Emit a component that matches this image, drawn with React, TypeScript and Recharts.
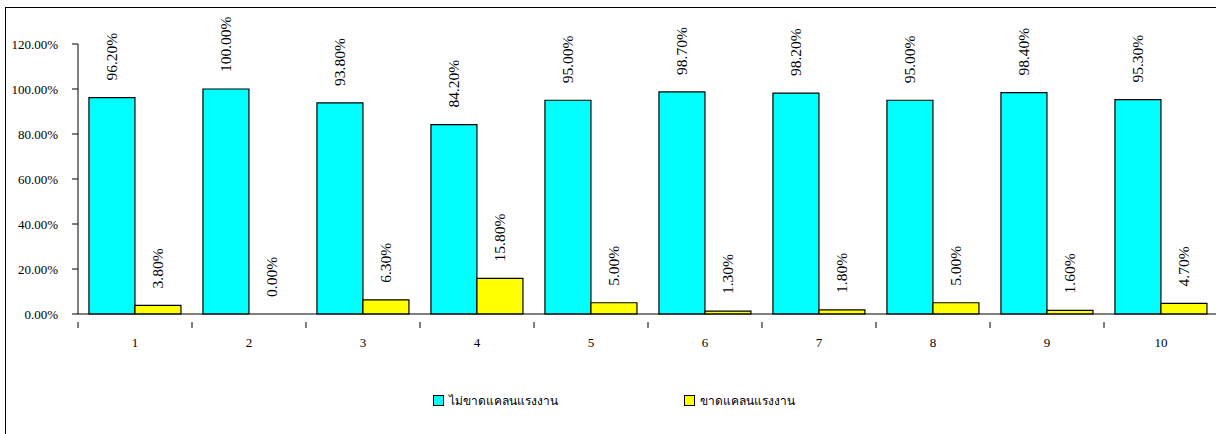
import React from "react";
import { BarChart, Bar, XAxis, YAxis, Legend, LabelList, Cell } from "recharts";

const categories = ["1", "2", "3", "4", "5", "6", "7", "8", "9", "10"];
const notShortage = [96.2, 100.0, 93.8, 84.2, 95.0, 98.7, 98.2, 95.0, 98.4, 95.3];
const shortage = [3.8, 0.0, 6.3, 15.8, 5.0, 1.3, 1.8, 5.0, 1.6, 4.7];
const yTicks = [0, 20, 40, 60, 80, 100, 120];
const seriesNames = ["ไม่ขาดแคลนแรงงาน", "ขาดแคลนแรงงาน"];
const seriesColors = ["#00FFFF", "#FFFF00"];

const data = categories.map((c, i) => ({
  name: c,
  a: notShortage[i],
  b: shortage[i],
}));

const FONT = "Liberation Serif, Times New Roman, serif";

const fmt = (v: number) => `${v.toFixed(2)}%`;

const RotLabel = (props: any) => {
  const { x, y, width, height, value } = props;
  const cx = x + width / 2;
  const top = Math.min(y, y + (height || 0));
  return (
    <text
      x={cx}
      y={top - 17}
      transform={`rotate(-90 ${cx} ${top - 17})`}
      textAnchor="start"
      dominantBaseline="central"
      fontFamily={FONT}
      fontSize={15.5}
      fill="#000"
    >
      {fmt(Number(value))}
    </text>
  );
};

const XTick = (props: any) => {
  const { x, y, payload } = props;
  const off = payload.offset || 0;
  return (
    <g>
      <line x1={x - off} y1={y} x2={x - off} y2={y + 6} stroke="#000" strokeWidth={1} />
      <text x={x} y={y + 25} textAnchor="middle" fontFamily={FONT} fontSize={13} fill="#000">
        {payload.value}
      </text>
    </g>
  );
};

const LegendContent = () => (
  <div style={{ position: "relative", width: 1216, height: 20, fontFamily: FONT, fontSize: 12 }}>
    {seriesNames.map((n, i) => (
      <div
        key={n}
        style={{
          position: "absolute",
          left: i === 0 ? 433 : 684,
          top: 0,
          display: "flex",
          alignItems: "center",
          whiteSpace: "nowrap",
        }}
      >
        <span
          style={{
            display: "inline-block",
            width: 9,
            height: 9,
            background: seriesColors[i],
            border: "1.5px solid #000",
            marginRight: 5,
          }}
        />
        <span>{n}</span>
      </div>
    ))}
  </div>
);

const tinyForZero = (v: any) => (Number(v) === 0 ? 0.01 : 0);

export default function App() {
  return (
    <div
      style={{
        position: "absolute",
        left: 0,
        top: 0,
        width: 1216,
        height: 434,
        overflow: "hidden",
        background: "#fff",
      }}
    >
      <div
        style={{
          position: "absolute",
          left: 5,
          top: 7,
          width: 1300,
          height: 500,
          border: "1.5px solid #000",
          boxSizing: "border-box",
        }}
      />
      <div style={{ position: "absolute", left: 0, top: 0 }}>
        <BarChart
          width={1218}
          height={434}
          data={data}
          margin={{ top: 44, right: 0, bottom: 70, left: 0 }}
          barCategoryGap="9.6%"
          barGap={0}
        >
          <XAxis
            dataKey="name"
            height={30}
            axisLine={{ stroke: "#000" }}
            tickLine={false}
            tick={<XTick />}
            interval={0}
          />
          <YAxis
            width={78}
            domain={[0, 120]}
            ticks={yTicks}
            tickFormatter={fmt}
            axisLine={{ stroke: "#000" }}
            tickLine={{ stroke: "#000" }}
            tickSize={6}
            tickMargin={14}
            tick={{ fontFamily: FONT, fontSize: 13, fill: "#000" }}
            interval={0}
          />
          <Legend
            content={<LegendContent />}
            wrapperStyle={{ position: "absolute", left: 0, top: 391, width: 1216, height: 20 }}
          />
          <Bar dataKey="a" name={seriesNames[0]} fill={seriesColors[0]} stroke="#000" strokeWidth={1.2} minPointSize={tinyForZero} isAnimationActive={false}>
            {notShortage.map((v, i) => (
              <Cell key={i} fill={seriesColors[0]} stroke={v === 0 ? "none" : "#000"} />
            ))}
            <LabelList dataKey="a" content={<RotLabel />} />
          </Bar>
          <Bar dataKey="b" name={seriesNames[1]} fill={seriesColors[1]} stroke="#000" strokeWidth={1.2} minPointSize={tinyForZero} isAnimationActive={false}>
            {shortage.map((v, i) => (
              <Cell key={i} fill={seriesColors[1]} stroke={v === 0 ? "none" : "#000"} />
            ))}
            <LabelList dataKey="b" content={<RotLabel />} />
          </Bar>
        </BarChart>
      </div>
    </div>
  );
}
